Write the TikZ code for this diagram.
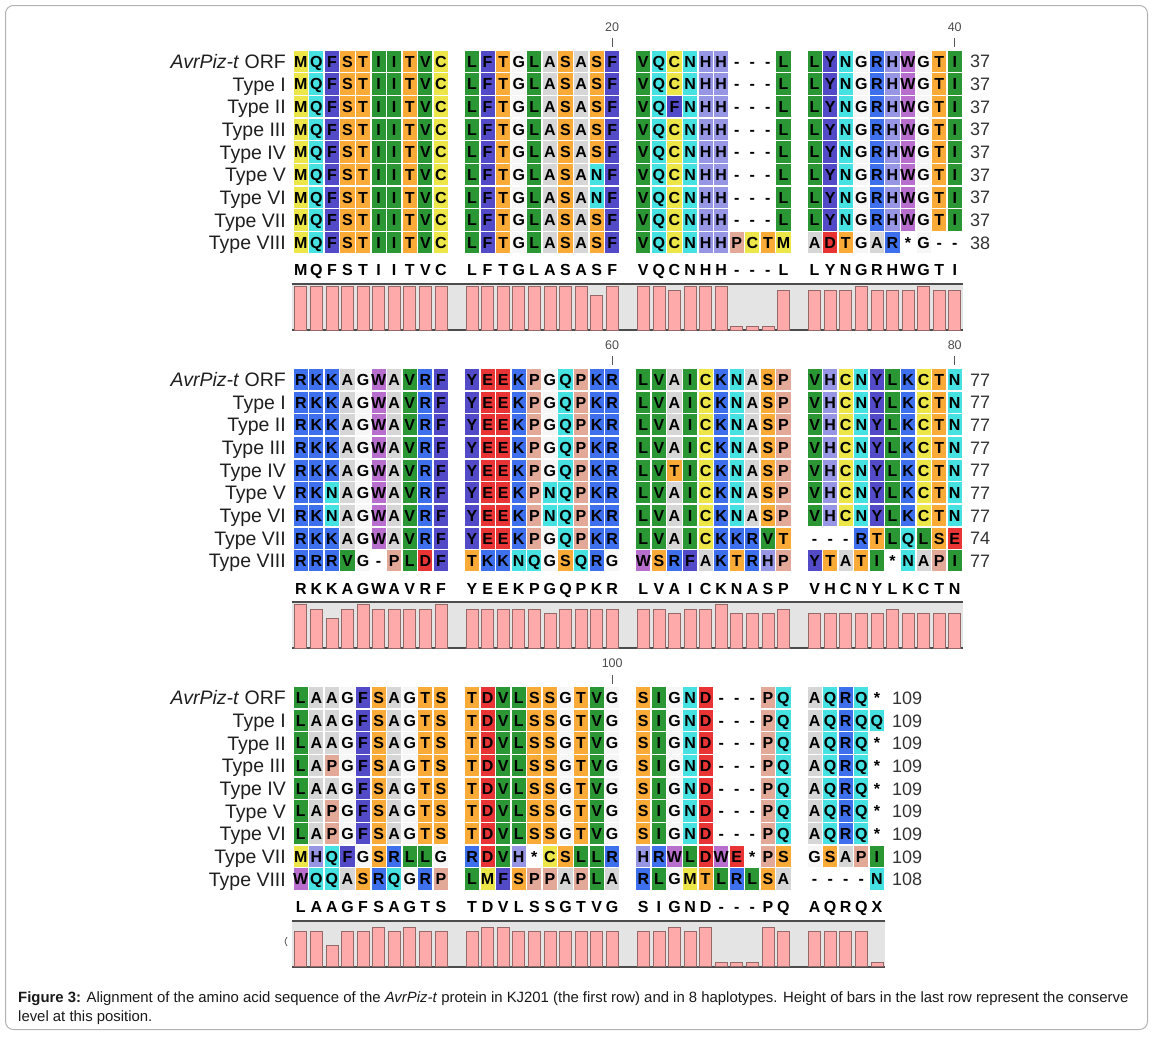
\documentclass[tikz,border=0pt]{standalone}
\usepackage{fontspec}
\setmainfont{Liberation Sans}
\usetikzlibrary{positioning}

% residue colours
\definecolor{resyellow}{RGB}{236,230,72}
\definecolor{rescyan}{RGB}{70,225,225}
\definecolor{resindigo}{RGB}{82,74,198}
\definecolor{resorange}{RGB}{250,170,55}
\definecolor{resgreen}{RGB}{42,150,52}
\definecolor{resgray}{RGB}{214,214,214}
\definecolor{reslav}{RGB}{150,150,228}
\definecolor{ressalmon}{RGB}{226,168,152}
\definecolor{resblue}{RGB}{62,112,238}
\definecolor{respurple}{RGB}{184,110,204}
\definecolor{resred}{RGB}{232,52,52}
\definecolor{resnone}{RGB}{246,246,246}
\definecolor{barpink}{RGB}{255,170,170}
\definecolor{barline}{RGB}{150,105,105}
\definecolor{barback}{RGB}{228,228,228}

% letter -> colour
\newcommand{\setres}[2]{\expandafter\def\csname rc#1\endcsname{#2}}
\setres{M}{resyellow}\setres{C}{resyellow}
\setres{Q}{rescyan}\setres{N}{rescyan}
\setres{F}{resindigo}\setres{Y}{resindigo}
\setres{S}{resorange}\setres{T}{resorange}
\setres{I}{resgreen}\setres{V}{resgreen}\setres{L}{resgreen}
\setres{A}{resgray}
\setres{H}{reslav}
\setres{P}{ressalmon}
\setres{R}{resblue}\setres{K}{resblue}
\setres{W}{respurple}
\setres{D}{resred}\setres{E}{resred}
\setres{G}{resnone}\setres{*}{white}\setres{-}{white}

\newcommand{\cw}{15.57}
\newcommand{\rh}{22.67}
\newcommand{\xzero}{293}
\newcommand{\btop}[1]{(50+(#1-1)*318.25)}

% one group of ten residues: block, row, group, residues
\newcommand{\seqgroup}[4]{%
  \pgfmathsetmacro{\ytop}{\btop{#1}+#2*\rh}
  \foreach \r [count=\ci from 0] in {#4} {
    \pgfmathsetmacro{\xl}{\xzero+(#3*11+\ci)*\cw}
    \edef\cc{\csname rc\r\endcsname}
    \fill[\cc] (\xl+0.7,\ytop+0.6) rectangle ++(\cw-1.4,\rh-1.4);
    \node[res] (c#1-#2-#3-\ci) at (\xl+\cw/2,\ytop+\rh/2) {\r};
  }}

% one row: block, row, label, four groups, length
\newcommand{\seqrow}[8]{%
  \pgfmathsetmacro{\ymid}{\btop{#1}+(#2+0.5)*\rh}
  \pgfmathsetmacro{\xnum}{#1==3 ? 892 : 970}
  \node[lab, anchor=base east] (lab#1-#2) at (286,\ymid+7) {#3};
  \node[num, anchor=base west] (num#1-#2) at (\xnum,\ymid+6.5) {#8};
  \seqgroup{#1}{#2}{0}{#4}
  \seqgroup{#1}{#2}{1}{#5}
  \seqgroup{#1}{#2}{2}{#6}
  \seqgroup{#1}{#2}{3}{#7}}

% consensus letters
\newcommand{\consgroup}[3]{%
  \pgfmathsetmacro{\yc}{\btop{#1}+220}
  \foreach \r [count=\ci from 0] in {#3} {
    \pgfmathsetmacro{\xc}{\xzero+(#2*11+\ci+0.5)*\cw}
    \node[res] (k#1-#2-\ci) at (\xc,\yc) {\r};
  }}

% conservation bars: block, group, counts (0 = gap)
\newcommand{\bargroup}[3]{%
  \pgfmathsetmacro{\ybot}{\btop{#1}+280}
  \foreach \v [count=\ci from 0] in {#3} {
    \pgfmathsetmacro{\xl}{\xzero+(#2*11+\ci)*\cw+1.8}
    \pgfmathsetmacro{\bh}{\v==0 ? 4 : 44-(9-\v)*4.6}
    \filldraw[bar] (\xl,\ybot) rectangle ++(\cw-3.6,-\bh);
  }}

\newcommand{\barframe}[2]{%
  \pgfmathsetmacro{\yt}{\btop{#1}+234}
  \pgfmathsetmacro{\yb}{\btop{#1}+280}
  \fill[barback] (\xzero-1,\yt) rectangle (#2,\yb);
  \draw[chartline] (\xzero-1,\yt) -- (#2,\yt);
  \draw[chartline] (\xzero-1,\yb) -- (#2,\yb);}

% position mark above a column: block, group, column, text
\newcommand{\rulermark}[4]{%
  \pgfmathsetmacro{\xm}{\xzero+(#2*11+#3+0.5)*\cw}
  \pgfmathsetmacro{\ym}{\btop{#1}}
  \draw[black!65, line width=0.9pt] (\xm,\ym-12) -- (\xm,\ym-3);
  \node[ruler] (mark#4) at (\xm,\ym-23) {#4};}

\tikzset{
  res/.style={font=\fontsize{16}{17}\selectfont\bfseries, inner sep=0pt, text height=11.5pt, text depth=0pt},
  lab/.style={font=\fontsize{19.5}{22}\selectfont, inner sep=0pt, text=black!88},
  num/.style={font=\fontsize{18}{20}\selectfont, inner sep=0pt, text=black!80},
  ruler/.style={font=\fontsize{12.5}{14}\selectfont, inner sep=0pt, text=black!70},
  bar/.style={fill=barpink, draw=barline, line width=0.7pt},
  chartline/.style={draw=black!70, line width=2pt},
  caption/.style={font=\fontsize{14.9}{17}\selectfont, inner sep=0pt, text=black!90}
}

\begin{document}
\begin{tikzpicture}[x=1pt,y=-1pt]

  \useasboundingbox (0,0) rectangle (1153,1036);
  \draw[rounded corners=8pt, black!30, line width=1pt] (5.5,5.5) rectangle (1147.5,1029.5);

  % block 1: 1-40
  \rulermark{1}{1}{9}{20}
  \rulermark{1}{3}{9}{40}
  \seqrow{1}{0}{\textit{AvrPiz-t} ORF}{M,Q,F,S,T,I,I,T,V,C}{L,F,T,G,L,A,S,A,S,F}{V,Q,C,N,H,H,-,-,-,L}{L,Y,N,G,R,H,W,G,T,I}{37}
  \seqrow{1}{1}{Type I}{M,Q,F,S,T,I,I,T,V,C}{L,F,T,G,L,A,S,A,S,F}{V,Q,C,N,H,H,-,-,-,L}{L,Y,N,G,R,H,W,G,T,I}{37}
  \seqrow{1}{2}{Type II}{M,Q,F,S,T,I,I,T,V,C}{L,F,T,G,L,A,S,A,S,F}{V,Q,F,N,H,H,-,-,-,L}{L,Y,N,G,R,H,W,G,T,I}{37}
  \seqrow{1}{3}{Type III}{M,Q,F,S,T,I,I,T,V,C}{L,F,T,G,L,A,S,A,S,F}{V,Q,C,N,H,H,-,-,-,L}{L,Y,N,G,R,H,W,G,T,I}{37}
  \seqrow{1}{4}{Type IV}{M,Q,F,S,T,I,I,T,V,C}{L,F,T,G,L,A,S,A,S,F}{V,Q,C,N,H,H,-,-,-,L}{L,Y,N,G,R,H,W,G,T,I}{37}
  \seqrow{1}{5}{Type V}{M,Q,F,S,T,I,I,T,V,C}{L,F,T,G,L,A,S,A,N,F}{V,Q,C,N,H,H,-,-,-,L}{L,Y,N,G,R,H,W,G,T,I}{37}
  \seqrow{1}{6}{Type VI}{M,Q,F,S,T,I,I,T,V,C}{L,F,T,G,L,A,S,A,N,F}{V,Q,C,N,H,H,-,-,-,L}{L,Y,N,G,R,H,W,G,T,I}{37}
  \seqrow{1}{7}{Type VII}{M,Q,F,S,T,I,I,T,V,C}{L,F,T,G,L,A,S,A,S,F}{V,Q,C,N,H,H,-,-,-,L}{L,Y,N,G,R,H,W,G,T,I}{37}
  \seqrow{1}{8}{Type VIII}{M,Q,F,S,T,I,I,T,V,C}{L,F,T,G,L,A,S,A,S,F}{V,Q,C,N,H,H,P,C,T,M}{A,D,T,G,A,R,*,G,-,-}{38}
  \consgroup{1}{0}{M,Q,F,S,T,I,I,T,V,C}
  \consgroup{1}{1}{L,F,T,G,L,A,S,A,S,F}
  \consgroup{1}{2}{V,Q,C,N,H,H,-,-,-,L}
  \consgroup{1}{3}{L,Y,N,G,R,H,W,G,T,I}
  \barframe{1}{962.5}
  \bargroup{1}{0}{9,9,9,9,9,9,9,9,9,9}
  \bargroup{1}{1}{9,9,9,9,9,9,9,9,7,9}
  \bargroup{1}{2}{9,9,8,9,9,9,0,0,0,8}
  \bargroup{1}{3}{8,8,8,9,8,8,8,9,8,8}

  % block 2: 41-80
  \rulermark{2}{1}{9}{60}
  \rulermark{2}{3}{9}{80}
  \seqrow{2}{0}{\textit{AvrPiz-t} ORF}{R,K,K,A,G,W,A,V,R,F}{Y,E,E,K,P,G,Q,P,K,R}{L,V,A,I,C,K,N,A,S,P}{V,H,C,N,Y,L,K,C,T,N}{77}
  \seqrow{2}{1}{Type I}{R,K,K,A,G,W,A,V,R,F}{Y,E,E,K,P,G,Q,P,K,R}{L,V,A,I,C,K,N,A,S,P}{V,H,C,N,Y,L,K,C,T,N}{77}
  \seqrow{2}{2}{Type II}{R,K,K,A,G,W,A,V,R,F}{Y,E,E,K,P,G,Q,P,K,R}{L,V,A,I,C,K,N,A,S,P}{V,H,C,N,Y,L,K,C,T,N}{77}
  \seqrow{2}{3}{Type III}{R,K,K,A,G,W,A,V,R,F}{Y,E,E,K,P,G,Q,P,K,R}{L,V,A,I,C,K,N,A,S,P}{V,H,C,N,Y,L,K,C,T,N}{77}
  \seqrow{2}{4}{Type IV}{R,K,K,A,G,W,A,V,R,F}{Y,E,E,K,P,G,Q,P,K,R}{L,V,T,I,C,K,N,A,S,P}{V,H,C,N,Y,L,K,C,T,N}{77}
  \seqrow{2}{5}{Type V}{R,K,N,A,G,W,A,V,R,F}{Y,E,E,K,P,N,Q,P,K,R}{L,V,A,I,C,K,N,A,S,P}{V,H,C,N,Y,L,K,C,T,N}{77}
  \seqrow{2}{6}{Type VI}{R,K,N,A,G,W,A,V,R,F}{Y,E,E,K,P,N,Q,P,K,R}{L,V,A,I,C,K,N,A,S,P}{V,H,C,N,Y,L,K,C,T,N}{77}
  \seqrow{2}{7}{Type VII}{R,K,K,A,G,W,A,V,R,F}{Y,E,E,K,P,G,Q,P,K,R}{L,V,A,I,C,K,K,R,V,T}{-,-,-,R,T,L,Q,L,S,E}{74}
  \seqrow{2}{8}{Type VIII}{R,R,R,V,G,-,P,L,D,F}{T,K,K,N,Q,G,S,Q,R,G}{W,S,R,F,A,K,T,R,H,P}{Y,T,A,T,I,*,N,A,P,I}{77}
  \consgroup{2}{0}{R,K,K,A,G,W,A,V,R,F}
  \consgroup{2}{1}{Y,E,E,K,P,G,Q,P,K,R}
  \consgroup{2}{2}{L,V,A,I,C,K,N,A,S,P}
  \consgroup{2}{3}{V,H,C,N,Y,L,K,C,T,N}
  \barframe{2}{962.5}
  \bargroup{2}{0}{9,8,6,8,9,8,8,8,8,9}
  \bargroup{2}{1}{8,8,8,8,8,7,8,8,8,8}
  \bargroup{2}{2}{8,8,7,8,8,9,7,7,7,8}
  \bargroup{2}{3}{7,7,7,7,7,8,7,7,7,7}

  % block 3: 81-end
  \rulermark{3}{1}{9}{100}
  \seqrow{3}{0}{\textit{AvrPiz-t} ORF}{L,A,A,G,F,S,A,G,T,S}{T,D,V,L,S,S,G,T,V,G}{S,I,G,N,D,-,-,-,P,Q}{A,Q,R,Q,*}{109}
  \seqrow{3}{1}{Type I}{L,A,A,G,F,S,A,G,T,S}{T,D,V,L,S,S,G,T,V,G}{S,I,G,N,D,-,-,-,P,Q}{A,Q,R,Q,Q}{109}
  \seqrow{3}{2}{Type II}{L,A,A,G,F,S,A,G,T,S}{T,D,V,L,S,S,G,T,V,G}{S,I,G,N,D,-,-,-,P,Q}{A,Q,R,Q,*}{109}
  \seqrow{3}{3}{Type III}{L,A,P,G,F,S,A,G,T,S}{T,D,V,L,S,S,G,T,V,G}{S,I,G,N,D,-,-,-,P,Q}{A,Q,R,Q,*}{109}
  \seqrow{3}{4}{Type IV}{L,A,A,G,F,S,A,G,T,S}{T,D,V,L,S,S,G,T,V,G}{S,I,G,N,D,-,-,-,P,Q}{A,Q,R,Q,*}{109}
  \seqrow{3}{5}{Type V}{L,A,P,G,F,S,A,G,T,S}{T,D,V,L,S,S,G,T,V,G}{S,I,G,N,D,-,-,-,P,Q}{A,Q,R,Q,*}{109}
  \seqrow{3}{6}{Type VI}{L,A,P,G,F,S,A,G,T,S}{T,D,V,L,S,S,G,T,V,G}{S,I,G,N,D,-,-,-,P,Q}{A,Q,R,Q,*}{109}
  \seqrow{3}{7}{Type VII}{M,H,Q,F,G,S,R,L,L,G}{R,D,V,H,*,C,S,L,L,R}{H,R,W,L,D,W,E,*,P,S}{G,S,A,P,I}{109}
  \seqrow{3}{8}{Type VIII}{W,Q,Q,A,S,R,Q,G,R,P}{L,M,F,S,P,P,A,P,L,A}{R,L,G,M,T,L,R,L,S,A}{-,-,-,-,N}{108}
  \consgroup{3}{0}{L,A,A,G,F,S,A,G,T,S}
  \consgroup{3}{1}{T,D,V,L,S,S,G,T,V,G}
  \consgroup{3}{2}{S,I,G,N,D,-,-,-,P,Q}
  \consgroup{3}{3}{A,Q,R,Q,X}
  \barframe{3}{884.7}
  \bargroup{3}{0}{7,7,4,7,7,8,7,8,7,7}
  \bargroup{3}{1}{7,8,8,7,7,7,7,7,7,7}
  \bargroup{3}{2}{7,7,8,7,8,0,0,0,8,7}
  \bargroup{3}{3}{7,7,7,7,0}
  \draw[black!60, line width=0.9pt] (287,937) .. controls (284.5,941.5) .. (287,946);

  % caption
  \node[caption, anchor=base west] (cap1) at (18,1002) {\textbf{Figure 3:} Alignment of the amino acid sequence of the \textit{AvrPiz-t} protein in KJ201 (the first row) and in 8 haplotypes. Height of bars in the last row represent the conserve};
  \node[caption, anchor=base west] (cap2) at (18,1021) {level at this position.};

\end{tikzpicture}
\end{document}
